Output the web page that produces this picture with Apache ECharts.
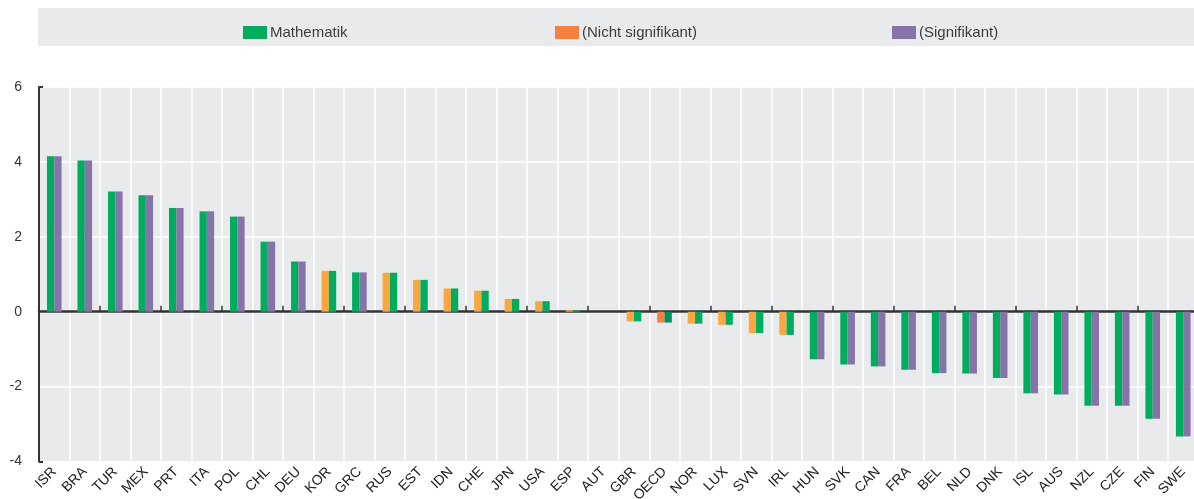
<!DOCTYPE html>
<html>
<head>
<meta charset="utf-8">
<script src="https://cdn.jsdelivr.net/npm/echarts@6/dist/echarts.min.js"></script>
<style>
html,body{margin:0;padding:0;background:#fff;}
#chart{width:1194px;height:499px;}
</style>
</head>
<body>
<div id="chart"></div>
<script>
const categories = ['ISR','BRA','TUR','MEX','PRT','ITA','POL','CHL','DEU','KOR','GRC','RUS','EST','IDN','CHE','JPN','USA','ESP','AUT','GBR','OECD','NOR','LUX','SVN','IRL','HUN','SVK','CAN','FRA','BEL','NLD','DNK','ISL','AUS','NZL','CZE','FIN','SWE'];
const mathValues = [4.15,4.04,3.21,3.11,2.77,2.68,2.54,1.87,1.34,1.09,1.05,1.04,0.85,0.62,0.56,0.34,0.28,0.04,0,-0.26,-0.29,-0.32,-0.35,-0.57,-0.62,-1.27,-1.41,-1.46,-1.55,-1.64,-1.65,-1.77,-2.18,-2.21,-2.51,-2.51,-2.86,-3.33];
const significant = [1,1,1,1,1,1,1,1,1,0,1,0,0,0,0,0,0,0,0,0,0,0,0,0,0,1,1,1,1,1,1,1,1,1,1,1,1,1];
const yTicks = [-4,-2,0,2,4,6];
const legendNames = ['Mathematik','(Nicht signifikant)','(Signifikant)'];

const GREEN = '#00AD5F', PURPLE = '#8673A8', ORANGE = '#F9A73E';
const OECD_ORANGE = '#F47F3F', OECD_GREEN = '#00915E';

function item(v, color) { return color ? {value: v, itemStyle: {color: color}} : v; }
const leftGreen = [], leftOrange = [], rightPurple = [], rightGreen = [];
categories.forEach((c, i) => {
  const v = mathValues[i];
  const isO = c === 'OECD';
  if (significant[i]) {
    leftGreen.push(v); leftOrange.push(0); rightPurple.push(v); rightGreen.push(0);
  } else {
    leftGreen.push(0);
    leftOrange.push(item(v, isO ? OECD_ORANGE : null));
    rightPurple.push(0);
    rightGreen.push(item(v, isO ? OECD_GREEN : null));
  }
});

const FONT = 'Liberation Sans, Arial, sans-serif';
const chart = echarts.init(document.getElementById('chart'), null, {renderer: 'canvas'});
const barCommon = {type: 'bar', barWidth: 7.3, barGap: '0%', xAxisIndex: 0, yAxisIndex: 0};
chart.setOption({
  animation: false,
  textStyle: {fontFamily: FONT},
  graphic: [{type: 'rect', left: 38, top: 8, z: 0, shape: {width: 1160, height: 38}, style: {fill: '#E9EAEC'}}],
  legend: [
    {left: 238, top: 20, icon: 'rect', itemWidth: 24, itemHeight: 13, itemGap: 0, selectedMode: false, z: 5,
     textStyle: {fontSize: 15, color: '#3c3c3c', fontFamily: FONT, padding: [0,0,0,-2]}, data: [{name: legendNames[0], itemStyle: {color: GREEN}}]},
    {left: 550, top: 20, icon: 'rect', itemWidth: 24, itemHeight: 13, itemGap: 0, selectedMode: false, z: 5,
     textStyle: {fontSize: 15, color: '#3c3c3c', fontFamily: FONT, padding: [0,0,0,-2]}, data: [{name: legendNames[1], itemStyle: {color: '#F58140'}}]},
    {left: 887, top: 20, icon: 'rect', itemWidth: 24, itemHeight: 13, itemGap: 0, selectedMode: false, z: 5,
     textStyle: {fontSize: 15, color: '#3c3c3c', fontFamily: FONT, padding: [0,0,0,-2]}, data: [{name: legendNames[2], itemStyle: {color: PURPLE}}]}
  ],
  grid: {left: 39, right: -4.5, top: 87, bottom: 37.5, show: true, backgroundColor: '#E9EAEC', borderWidth: 0,
         containLabel: false, outerBoundsMode: 'none'},
  xAxis: [
    {type: 'category', data: categories, gridIndex: 0,
     axisLine: {onZero: true, lineStyle: {color: '#333', width: 2.5}},
     axisTick: {show: true, inside: true, length: 6, lineStyle: {color: '#333', width: 1.5}},
     axisLabel: {show: false}, splitLine: {show: false}},
    {type: 'category', data: categories, gridIndex: 0, position: 'bottom',
     axisLine: {show: false, onZero: false}, axisTick: {show: false},
     axisLabel: {show: true, interval: 0, rotate: 45, fontSize: 14, color: '#222', margin: 8, fontFamily: FONT},
     splitLine: {show: true, interval: 0, lineStyle: {color: '#ffffff', width: 1.5}}}
  ],
  yAxis: [
    {type: 'value', min: yTicks[0], max: yTicks[yTicks.length - 1], interval: 2, position: 'left',
     axisLine: {show: true, lineStyle: {color: '#333', width: 2}},
     axisTick: {show: false},
     axisLabel: {fontSize: 14, color: '#333', margin: 17, fontFamily: FONT},
     splitLine: {show: true, lineStyle: {color: '#ffffff', width: 1.5}}},
    {type: 'value', min: yTicks[0], max: yTicks[yTicks.length - 1], interval: 10, position: 'left', offset: 0,
     axisLine: {show: false}, axisLabel: {show: false}, splitLine: {show: false},
     axisTick: {show: true, inside: true, length: 4, lineStyle: {color: '#333', width: 2}}}
  ],
  series: [
    Object.assign({name: legendNames[0], stack: 'L', itemStyle: {color: GREEN}, data: leftGreen}, barCommon),
    Object.assign({name: legendNames[1], stack: 'L', itemStyle: {color: ORANGE}, data: leftOrange}, barCommon),
    Object.assign({name: legendNames[2], stack: 'R', itemStyle: {color: PURPLE}, data: rightPurple}, barCommon),
    Object.assign({name: legendNames[0], stack: 'R', itemStyle: {color: GREEN}, data: rightGreen}, barCommon)
  ]
});
</script>
</body>
</html>
